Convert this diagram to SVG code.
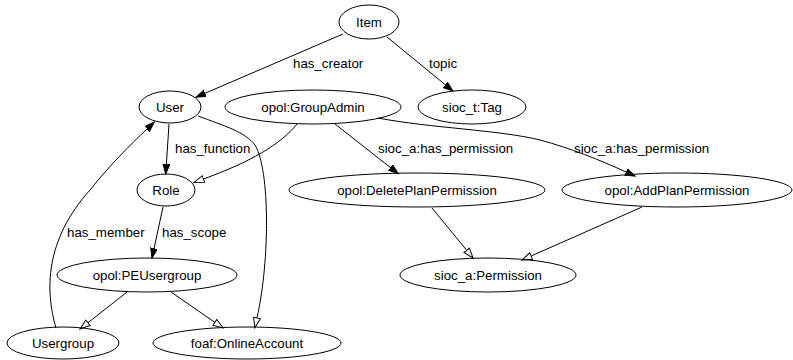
<svg xmlns="http://www.w3.org/2000/svg" width="793" height="360" viewBox="0 0 793 360">
<style>
  .node ellipse { fill: none; stroke: #000; stroke-width: 1; }
  .node text { font-family: "Liberation Sans", Arial, sans-serif; font-size: 13.3px; text-anchor: middle; fill: #000; }
  .edges path { fill: none; stroke: #000; stroke-width: 1; }
  .edges .filled { marker-end: url(#af); }
  .edges .hollow { marker-end: url(#ah); }
  .edges text { font-family: "Liberation Sans", Arial, sans-serif; font-size: 13.3px; fill: #000; }
</style>
<defs>
  <marker id="af" markerWidth="12" markerHeight="10" refX="0" refY="3.5" orient="auto" markerUnits="userSpaceOnUse" viewBox="0 0 12 10">
    <path d="M0,0 L10,3.5 L0,7 Z" fill="#000" stroke="#000" stroke-width="1"/>
  </marker>
  <marker id="ah" markerWidth="12" markerHeight="10" refX="0.5" refY="4" orient="auto" markerUnits="userSpaceOnUse" viewBox="0 0 12 10">
    <path d="M0.5,0.5 L10.5,4 L0.5,7.5 Z" fill="#fff" stroke="#000" stroke-width="1"/>
  </marker>
</defs>
<rect width="793" height="360" fill="#fff"/>
<g class="edges" id="connectors">
  <path class="filled" d="M343,34 L205.2,93.2"/>
  <text x="293" y="68">has_creator</text>
  <path class="filled" d="M387,37 L445.2,84.7"/>
  <text x="429" y="68">topic</text>
  <path class="filled" d="M169,124 L166.4,164"/>
  <text x="175" y="153">has_function</text>
  <path class="hollow" d="M297,124 C280,145 250,162 203.5,179"/>
  <path class="hollow" d="M198,116 C225,126 245,132 255,145 C270,170 270,260 257,318"/>
  <path class="filled" d="M335,124 L390.4,167.5"/>
  <text x="378" y="153">sioc_a:has_permission</text>
  <path class="filled" d="M378,118 C430,128 500,130 540,140 C570,148 600,160 626,172"/>
  <text x="574" y="153">sioc_a:has_permission</text>
  <path class="hollow" d="M432,208 L466.7,250.3"/>
  <path class="hollow" d="M642,207 L531.1,256"/>
  <path class="filled" d="M163,207 L154.1,248.2"/>
  <text x="162" y="237">has_scope</text>
  <path class="hollow" d="M127,292 L87.9,322.8"/>
  <path class="hollow" d="M171,292 L214.8,322.3"/>
  <path class="filled" d="M56,328 C45,290 45,240 90,190 C110,165 130,145 147,129"/>
  <text x="67" y="237">has_member</text>
</g>
<g class="node" id="item"><ellipse cx="369" cy="22" rx="30" ry="17"/><text x="369" y="27">Item</text></g>
<g class="node" id="user"><ellipse cx="170" cy="107" rx="31" ry="16"/><text x="170" y="112">User</text></g>
<g class="node" id="groupadmin"><ellipse cx="313" cy="107" rx="88" ry="17"/><text x="313" y="112">opol:GroupAdmin</text></g>
<g class="node" id="tag"><ellipse cx="472" cy="107" rx="54" ry="17"/><text x="472" y="112">sioc_t:Tag</text></g>
<g class="node" id="role"><ellipse cx="166" cy="190" rx="29" ry="16"/><text x="166" y="195">Role</text></g>
<g class="node" id="deleteplan"><ellipse cx="417" cy="190" rx="128" ry="17"/><text x="417" y="195">opol:DeletePlanPermission</text></g>
<g class="node" id="addplan"><ellipse cx="677" cy="190" rx="115" ry="17"/><text x="677" y="195">opol:AddPlanPermission</text></g>
<g class="node" id="peusergroup"><ellipse cx="147" cy="275" rx="90" ry="17"/><text x="147" y="280">opol:PEUsergroup</text></g>
<g class="node" id="permission"><ellipse cx="488" cy="275" rx="88" ry="17"/><text x="488" y="280">sioc_a:Permission</text></g>
<g class="node" id="usergroup"><ellipse cx="63" cy="343" rx="56" ry="16"/><text x="63" y="348">Usergroup</text></g>
<g class="node" id="onlineaccount"><ellipse cx="247" cy="343" rx="94" ry="16"/><text x="247" y="348">foaf:OnlineAccount</text></g>
</svg>
